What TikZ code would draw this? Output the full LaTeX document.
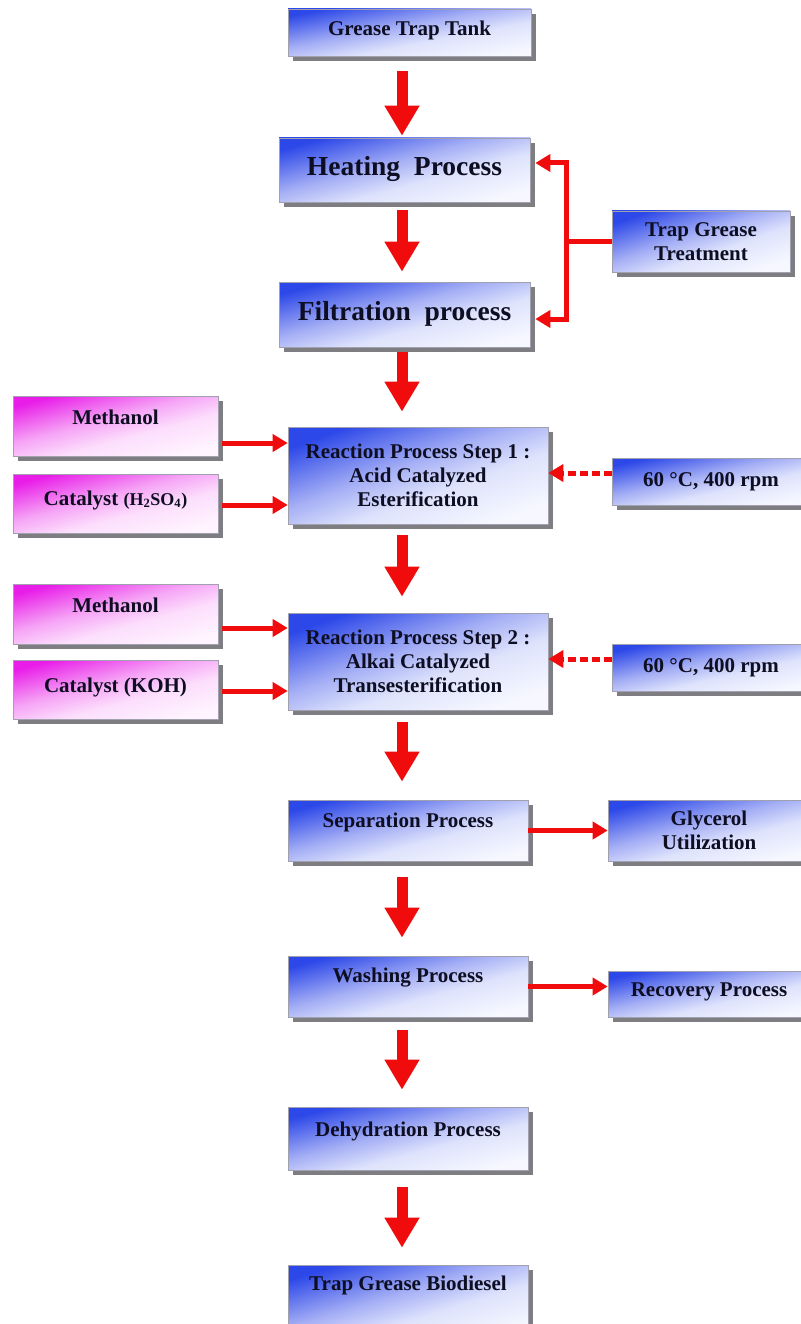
\documentclass[tikz,border=0pt]{standalone}
\usepackage{fontspec}
\setmainfont{Liberation Serif}
\usetikzlibrary{arrows.meta,calc,shadows}

\definecolor{boxblue}{RGB}{45,72,232}
\definecolor{boxmid}{RGB}{165,175,245}
\definecolor{boxlight}{RGB}{222,227,252}
\definecolor{boxpale}{RGB}{246,247,255}
\definecolor{boxpink}{RGB}{232,30,232}
\definecolor{pinkmid}{RGB}{246,165,246}
\definecolor{pinklight}{RGB}{252,222,252}
\definecolor{pinkpale}{RGB}{255,244,255}
\definecolor{boxline}{RGB}{160,160,175}
\definecolor{boxshadow}{RGB}{125,125,130}
\definecolor{flowred}{RGB}{240,12,12}
\definecolor{inkblue}{RGB}{14,14,34}

\pgfdeclareverticalshading{bluegrad}{100bp}{color(0bp)=(boxpale); color(25bp)=(boxpale);
  color(42bp)=(boxlight); color(55bp)=(boxmid); color(75bp)=(boxblue); color(100bp)=(boxblue)}
\pgfdeclareverticalshading{pinkgrad}{100bp}{color(0bp)=(pinkpale); color(25bp)=(pinkpale);
  color(42bp)=(pinklight); color(55bp)=(pinkmid); color(75bp)=(boxpink); color(100bp)=(boxpink)}

\begin{document}
\begin{tikzpicture}[x=1pt,y=-1pt,
  procbox/.style={draw=boxline,line width=0.6pt,shade,shading=bluegrad,shading angle=15,
    drop shadow={shadow xshift=5pt,shadow yshift=-5pt,fill=boxshadow,opacity=1},
    text=inkblue,font=\bfseries\fontsize{21}{24}\selectfont,align=center,inner sep=2pt},
  feedbox/.style={procbox,shading=pinkgrad},
  bigfont/.style={font=\bfseries\fontsize{27.5}{30}\selectfont},
  lift/.style={text depth=#1},
  bigarrow/.style={flowred,line width=11pt,-{Triangle[width=33pt,length=30pt]}},
  thinarrow/.style={flowred,line width=5pt,-{Triangle[width=17pt,length=15pt]}},
  heatarrow/.style={thinarrow,dash pattern=on 8pt off 4pt}]

\path[use as bounding box,fill=white] (0,0) rectangle (800,1324);
\coordinate (spine) at (402,0);

\node[procbox,shading angle=11,minimum width=243pt,minimum height=47pt,lift=8.5pt] (tank) at (409.5,32.5) {Grease Trap Tank};
\node[procbox,bigfont,minimum width=251pt,minimum height=64pt,lift=9pt] (heat) at (404.5,170) {Heating\ \ Process};
\node[procbox,bigfont,minimum width=251pt,minimum height=65pt,lift=8pt] (filt) at (404.5,314.5) {Filtration\ \ process};
\node[procbox,shading angle=19,minimum width=178pt,minimum height=61pt] (treat) at (701,241.5) {Trap Grease\\Treatment};

\node[procbox,shading angle=20,minimum width=260pt,minimum height=97pt] (react1) at (418,475.5) {Reaction Process Step 1 :\\Acid Catalyzed\\Esterification};
\node[feedbox,minimum width=205pt,minimum height=60pt,lift=18.5pt] (meth1) at (115.5,426) {Methanol};
\node[feedbox,minimum width=205pt,minimum height=59pt,lift=11.5pt] (cat1) at (115.5,503.5) {Catalyst {\fontsize{18}{20}\selectfont(H\textsubscript{2}SO\textsubscript{4})}};
\node[procbox,shading angle=13,minimum width=198pt,minimum height=47pt] (cond1) at (711,481.5) {60 °C, 400 rpm};

\node[procbox,shading angle=20,minimum width=260pt,minimum height=97pt] (react2) at (418,661.5) {Reaction Process Step 2 :\\Alkai Catalyzed\\Transesterification};
\node[feedbox,minimum width=205pt,minimum height=60pt,lift=18.5pt] (meth2) at (115.5,614) {Methanol};
\node[feedbox,minimum width=205pt,minimum height=59pt,lift=9.5pt] (cat2) at (115.5,689.5) {Catalyst (KOH)};
\node[procbox,shading angle=13,minimum width=198pt,minimum height=47pt] (cond2) at (711,667.5) {60 °C, 400 rpm};

\node[procbox,minimum width=240pt,minimum height=61pt,lift=21.5pt] (sep) at (408,830.5) {Separation Process};
\node[procbox,minimum width=202pt,minimum height=61pt] (glyc) at (709,830.5) {Glycerol\\Utilization};
\node[procbox,minimum width=240pt,minimum height=61pt,lift=23.5pt] (wash) at (408,986.5) {Washing Process};
\node[procbox,shading angle=13,minimum width=202pt,minimum height=46pt,lift=8.5pt] (recov) at (709,994) {Recovery Process};
\node[procbox,minimum width=240pt,minimum height=63pt,lift=19.5pt] (dehy) at (408,1138.5) {Dehydration Process};
\node[procbox,shading angle=17,minimum width=240pt,minimum height=75pt,lift=39.5pt] (bio) at (408,1302.5) {Trap Grease Biodiesel};

\foreach \a/\b/\s/\e in {tank/heat/15/2, heat/filt/8/10, filt/react1/5/15, react1/react2/11/16,
  react2/sep/12/18, sep/wash/16/18, wash/dehy/13/17, dehy/bio/17/17}
\draw[bigarrow] ($(\a.south -| spine)+(0,\s)$) -- ($(\b.north -| spine)+(0,-\e)$);

\coordinate (split) at ($(treat.west)+(-45,0)$);
\draw[thinarrow] (treat.west) -- (split) |- ($(heat.east)+(5,-7)$);
\draw[thinarrow] (split) |- ($(filt.east)+(5,4.5)$);

\foreach \src/\dst/\dy in {meth1/react1/17, cat1/react1/1.5, meth2/react2/14, cat2/react2/1.5}
\draw[thinarrow] ($(\src.east)+(4,\dy)$) coordinate (tail) -- (tail -| \dst.west);

\foreach \src/\dst in {cond1/react1, cond2/react2}
\draw[heatarrow] ($(\src.west)+(0,-8.5)$) coordinate (tail) -- (tail -| \dst.east);

\draw[thinarrow] (sep.east) -- (glyc.west);
\draw[thinarrow] (wash.east) -- (wash.east -| recov.west);
\end{tikzpicture}
\end{document}
